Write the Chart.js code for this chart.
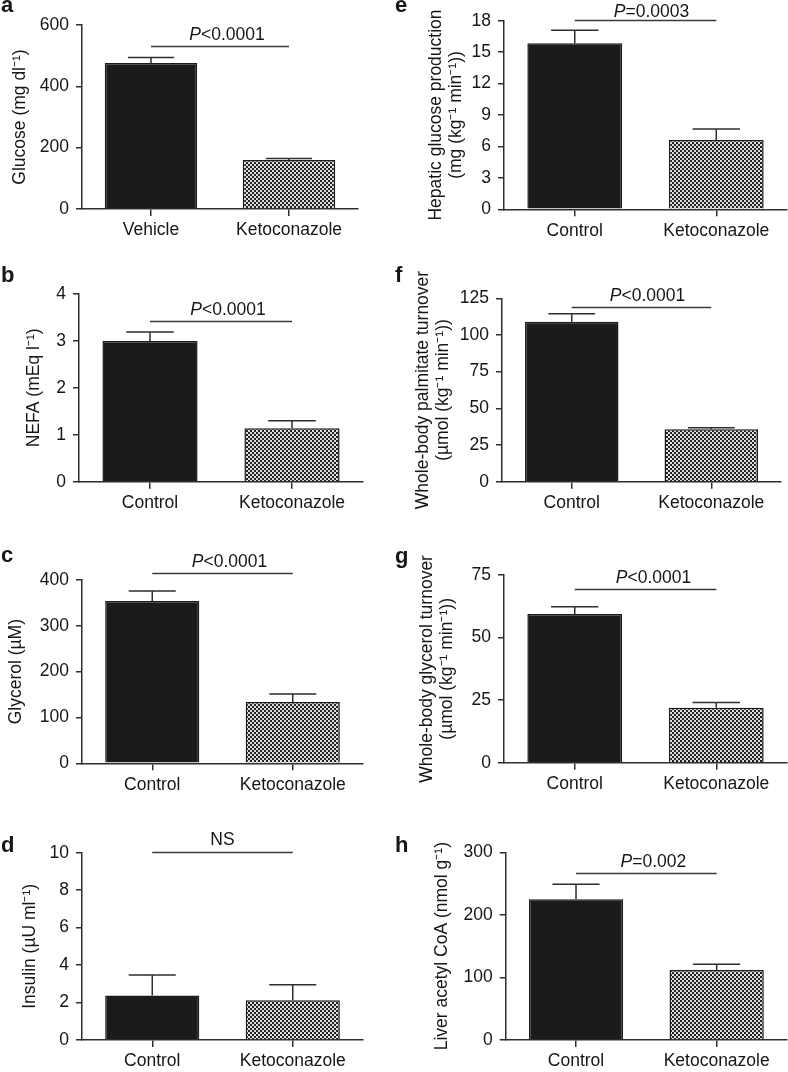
<!DOCTYPE html>
<html>
<head>
<meta charset="utf-8">
<script src="https://cdn.jsdelivr.net/npm/chart.js@4.4.1/dist/chart.umd.min.js"></script>
<style>
  html, body { margin: 0; padding: 0; background: #fff; }
  #wrap { position: relative; width: 788px; height: 1072px; }
  #wrap canvas { position: absolute; }
</style>
</head>
<body>
<div id="wrap"></div>
<script>
// categories
const vehicleCats = ['Vehicle', 'Ketoconazole'];
const controlCats = ['Control', 'Ketoconazole'];

// values (mean, SEM)
const glucose = [476, 160];
const glucoseErr = [18, 5];
const glucoseTicks = [0, 200, 400, 600];

const nefa = [3.0, 1.14];
const nefaErr = [0.19, 0.16];
const nefaTicks = [0, 1, 2, 3, 4];

const glycerol = [354, 134];
const glycerolErr = [22, 17];
const glycerolTicks = [0, 100, 200, 300, 400];

const insulin = [2.37, 2.12];
const insulinErr = [1.1, 0.83];
const insulinTicks = [0, 2, 4, 6, 8, 10];

const hgp = [15.84, 6.61];
const hgpErr = [1.26, 1.05];
const hgpTicks = [0, 3, 6, 9, 12, 15, 18];

const palmitate = [109, 35.7];
const palmitateErr = [5.5, 1.1];
const palmitateTicks = [0, 25, 50, 75, 100, 125];

const glycTurnover = [59.4, 22.0];
const glycTurnoverErr = [2.9, 2.1];
const glycTurnoverTicks = [0, 25, 50, 75];

const acetylCoA = [225, 112];
const acetylCoAErr = [24, 9];
const acetylCoATicks = [0, 100, 200, 300];

const FONT = '"Liberation Sans", Arial, Helvetica, sans-serif';
const INK = '#161616';
const AXIS = '#2e2e2e';

// box = canvas [x, y, w, h], area = plot area [left, top, right, bottom], letterY = baseline; all page px
const panels = [
  { letter: 'a', box: [0, 0, 394, 270], area: [82, 25, 358, 209], letterY: 12,
    cats: vehicleCats, vals: glucose, errs: glucoseErr, ticks: glucoseTicks,
    title: 'Glucose (mg dl\u207B\u00B9)', titlePad: 10,
    sigY: 531, sigIt: 'P', sigText: '<0.0001', sigDx: 7, sigGap: 6.5 },
  { letter: 'b', box: [0, 256, 394, 284], area: [79, 294, 363, 481.7], letterY: 282,
    cats: controlCats, vals: nefa, errs: nefaErr, ticks: nefaTicks,
    title: 'NEFA (mEq l\u207B\u00B9)', titlePad: 24,
    sigY: 3.42, sigIt: 'P', sigText: '<0.0001', sigDx: 7, sigGap: 6.5 },
  { letter: 'c', box: [0, 530, 394, 280], area: [82, 580, 363, 763.3], letterY: 562,
    cats: controlCats, vals: glycerol, errs: glycerolErr, ticks: glycerolTicks,
    title: 'Glycerol (\u00B5M)', titlePad: 6,
    sigY: 415, sigIt: 'P', sigText: '<0.0001', sigDx: 7, sigGap: 6.5 },
  { letter: 'd', box: [0, 810, 394, 262], area: [82, 852.7, 363, 1040], letterY: 852,
    cats: controlCats, vals: insulin, errs: insulinErr, ticks: insulinTicks,
    title: 'Insulin (\u00B5U ml\u207B\u00B9)', titlePad: 20,
    sigY: 10.05, sigIt: '', sigText: 'NS', sigDx: 0, sigGap: 8 },
  { letter: 'e', box: [394, 0, 394, 270], area: [504, 20.7, 787, 209.3], letterY: 12,
    cats: controlCats, vals: hgp, errs: hgpErr, ticks: hgpTicks,
    title: ['Hepatic glucose production', '(mg (kg\u207B\u00B9 min\u207B\u00B9))'], titlePad: 32,
    sigY: 18.07, sigIt: 'P', sigText: '=0.0003', sigDx: 6, sigGap: 3.5 },
  { letter: 'f', box: [394, 256, 394, 284], area: [502, 298.3, 781, 481.7], letterY: 282,
    cats: controlCats, vals: palmitate, errs: palmitateErr, ticks: palmitateTicks,
    title: ['Whole-body palmitate turnover', '(\u00B5mol (kg\u207B\u00B9 min\u207B\u00B9))'], titlePad: 19,
    sigY: 119.3, sigIt: 'P', sigText: '<0.0001', sigDx: 6, sigGap: 6.5 },
  { letter: 'g', box: [394, 530, 394, 280], area: [504, 575, 787, 762.7], letterY: 563,
    cats: controlCats, vals: glycTurnover, errs: glycTurnoverErr, ticks: glycTurnoverTicks,
    title: ['Whole-body glycerol turnover', '(\u00B5mol (kg\u207B\u00B9 min\u207B\u00B9))'], titlePad: 23,
    sigY: 69.5, sigIt: 'P', sigText: '<0.0001', sigDx: 8, sigGap: 6.5 },
  { letter: 'h', box: [394, 810, 394, 262], area: [505.7, 852.3, 787, 1040], letterY: 852,
    cats: controlCats, vals: acetylCoA, errs: acetylCoAErr, ticks: acetylCoATicks,
    title: 'Liver acetyl CoA (nmol g\u207B\u00B9)', titlePad: 38,
    sigY: 267.4, sigIt: 'P', sigText: '=0.002', sigDx: 7, sigGap: 6.5 }
];

function checker(ctx) {
  const c = document.createElement('canvas');
  c.width = 4; c.height = 4;
  const g = c.getContext('2d');
  g.fillStyle = '#e0e0e0';
  g.fillRect(0, 0, 4, 4);
  g.fillStyle = '#222';
  g.fillRect(0, 0, 2, 2);
  g.fillRect(2, 2, 2, 2);
  return ctx.createPattern(c, 'repeat');
}

// error bars, significance line, panel letter
function extras(p) {
  return {
    id: 'extras',
    afterDatasetsDraw(chart) {
      const ctx = chart.ctx;
      const y = chart.scales.y;
      const bars = chart.getDatasetMeta(0).data;
      ctx.save();
      ctx.strokeStyle = AXIS;
      ctx.lineWidth = 1.5;
      bars.forEach((bar, i) => {
        const top = y.getPixelForValue(p.vals[i] + p.errs[i]);
        const half = bar.width / 4;
        ctx.beginPath();
        ctx.moveTo(bar.x, bar.y);
        ctx.lineTo(bar.x, top);
        ctx.moveTo(bar.x - half, top);
        ctx.lineTo(bar.x + half, top);
        ctx.stroke();
      });
      ctx.restore();
    },
    afterDraw(chart) {
      const ctx = chart.ctx;
      const x = chart.scales.x;
      const y = chart.scales.y;
      const x0 = x.getPixelForValue(0);
      const x1 = x.getPixelForValue(1);
      const ly = Math.round(y.getPixelForValue(p.sigY)) + 0.5;
      ctx.save();
      ctx.strokeStyle = '#3a3a3a';
      ctx.lineWidth = 1.5;
      ctx.beginPath();
      ctx.moveTo(x0, ly);
      ctx.lineTo(x1, ly);
      ctx.stroke();

      ctx.fillStyle = INK;
      ctx.textBaseline = 'alphabetic';
      ctx.textAlign = 'left';
      ctx.font = 'italic 17.5px ' + FONT;
      const wIt = p.sigIt ? ctx.measureText(p.sigIt).width : 0;
      ctx.font = '17.5px ' + FONT;
      const wRest = ctx.measureText(p.sigText).width;
      let tx = (x0 + x1) / 2 + p.sigDx - (wIt + wRest) / 2;
      const ty = ly - p.sigGap;
      if (p.sigIt) {
        ctx.font = 'italic 17.5px ' + FONT;
        ctx.fillText(p.sigIt, tx, ty);
        tx += wIt;
      }
      ctx.font = '17.5px ' + FONT;
      ctx.fillText(p.sigText, tx, ty);

      ctx.font = 'bold 22px ' + FONT;
      ctx.fillText(p.letter, 1, p.letterY - p.box[1]);
      ctx.restore();
    }
  };
}

const wrap = document.getElementById('wrap');

panels.forEach(p => {
  const [bx, by, bw, bh] = p.box;
  const [L, T, R, B] = p.area;
  const cv = document.createElement('canvas');
  cv.width = bw;
  cv.height = bh;
  cv.style.left = bx + 'px';
  cv.style.top = by + 'px';
  cv.style.width = bw + 'px';
  cv.style.height = bh + 'px';
  wrap.appendChild(cv);
  const ctx = cv.getContext('2d');

  const tickFont = { family: FONT, size: 17.5 };

  new Chart(ctx, {
    type: 'bar',
    data: {
      labels: p.cats,
      datasets: [{
        data: p.vals,
        backgroundColor: ['#1b1b1b', checker(ctx)],
        borderColor: '#1b1b1b',
        borderWidth: 1.5,
        barPercentage: 0.67,
        categoryPercentage: 1
      }]
    },
    options: {
      responsive: false,
      animation: false,
      events: [],
      devicePixelRatio: 1,
      layout: { padding: { left: 0, top: T - by, right: bx + bw - R, bottom: 0 } },
      plugins: { legend: { display: false }, tooltip: { enabled: false } },
      scales: {
        x: {
          grid: { drawOnChartArea: false, offset: false, tickLength: 7, color: AXIS, lineWidth: 1.5 },
          border: { color: AXIS, width: 1.5 },
          ticks: { font: tickFont, color: INK, padding: 4 },
          afterFit: s => { s.height = by + bh - B; }
        },
        y: {
          min: p.ticks[0],
          max: p.ticks[p.ticks.length - 1],
          afterBuildTicks: s => { s.ticks = p.ticks.map(v => ({ value: v })); },
          grid: { drawOnChartArea: false, tickLength: 6, color: AXIS, lineWidth: 1.5 },
          border: { color: AXIS, width: 1.5 },
          ticks: { font: tickFont, color: INK, padding: 7 },
          title: {
            display: true,
            text: p.title,
            color: INK,
            font: { family: FONT, size: 17.5, lineHeight: '20px' },
            padding: { top: p.titlePad, bottom: 0 }
          },
          afterFit: s => { s.width = L - bx; }
        }
      }
    },
    plugins: [extras(p)]
  });
});
</script>
</body>
</html>
